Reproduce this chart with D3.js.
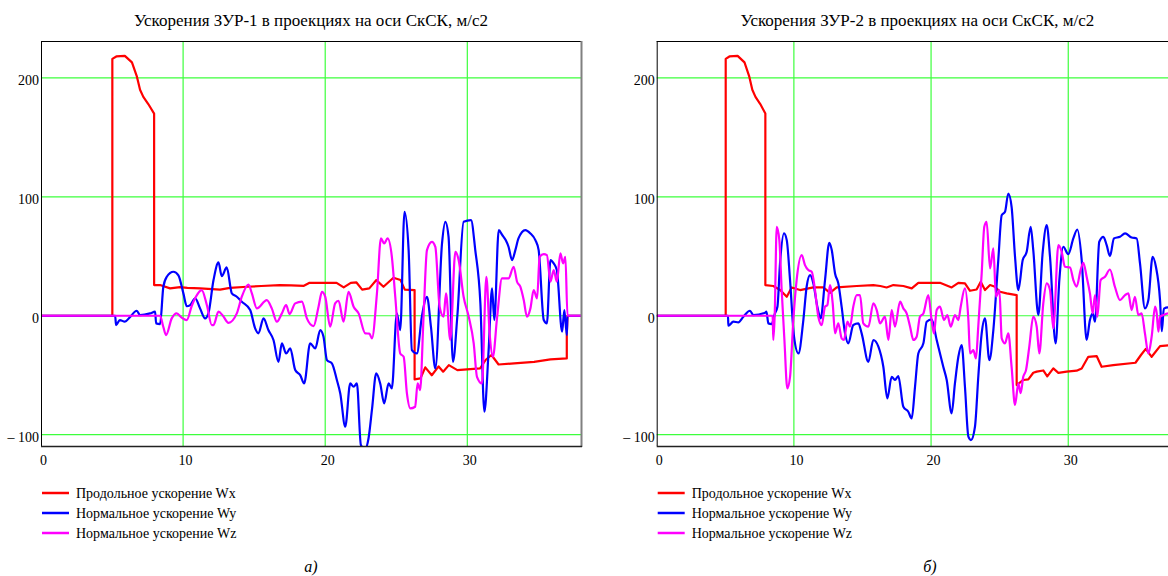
<!DOCTYPE html>
<html>
<head>
<meta charset="utf-8">
<script src="https://cdn.jsdelivr.net/npm/d3@7"></script>
<style>
  html, body { margin: 0; padding: 0; background: #fff; }
</style>
</head>
<body>
<svg id="chart" width="1168" height="576"></svg>
<script>
// ---- Tick values and labels ----
const xTicks = [0, 10, 20, 30];
const yTicks = [-100, 0, 100, 200];
const legendLabels = ["Продольное ускорение Wx", "Нормальное ускорение Wy", "Нормальное ускорение Wz"];
const seriesColors = ["#ff0000", "#0000ff", "#ff00ff"];
const panelTitles = ["Ускорения ЗУР-1 в проекциях на оси СкСК, м/с2", "Ускорения ЗУР-2 в проекциях на оси СкСК, м/с2"];
const panelCaptions = ["а)", "б)"];

// ---- ЗУР-1: [time, s ; acceleration, m/s^2] ----
const wx1 = [[0,0],[5.02,0],[5.02,216],[5.3,218],[5.9,218.5],[6.4,213],[6.75,201],[6.97,190],[7.2,184],[7.55,178],[7.96,170],[7.96,25.8],
  [8.38,25.8],[9.08,23],[9.79,24],[10.3,23.5],[11.2,23],[12.6,22],[13.3,23.5],[14.5,24.4],[15.5,25],[16.8,25.8],[17.6,25.5],[18.5,25.2],
  [18.9,27.7],[20.8,27.7],[21.3,23.8],[21.8,27.7],[22.2,28],[22.6,22],[23.1,23],[23.6,30],[24.1,24.4],[24.8,32],[25.3,30],[25.6,22],
  [26.29,21.6],[26.29,-53.5],[26.7,-52.7],[27.04,-43.4],[27.5,-50],[27.98,-42.6],[28.3,-47],[28.7,-41.5],[29.3,-45.7],[30.9,-44.3],
  [31.3,-37],[31.7,-33],[32.2,-41],[33.3,-40],[34.7,-38.7],[35.85,-36.7],[37.0,-35.9],[37.0,-16],[37.05,0],[38,0]];

const wy1 = [[0,0],[5.22,0],[5.28,-7.8],[5.55,-3.6],[5.9,-5],[6.27,-1],[6.74,4.2],[6.97,0.5],[7.68,2],[8.03,3.4],[8.1,-6.4],[8.38,-7],
  [8.61,24.4],[8.85,32.8],[9.32,37],[9.67,34],[10.02,18.8],[10.26,8],[10.5,9],[10.85,14.6],[11.2,6],[11.55,-2.2],[11.78,2],[12.14,30],
  [12.49,44.8],[12.72,33.3],[13.07,40.6],[13.43,18.8],[13.78,16],[14.13,11.8],[14.72,4.8],[15.07,-10.6],[15.3,-14.8],[15.66,-2.2],
  [16.0,-12],[16.36,-20.4],[16.71,-38.7],[16.95,-23.2],[17.25,-31.7],[17.54,-27.5],[17.89,-45.7],[18.24,-49.9],[18.52,-56.9],
  [18.94,-23.2],[19.3,-27.5],[19.65,-12],[19.88,-17.6],[20.12,-37.3],[20.47,-40],[20.82,-54],[21.06,-65.3],[21.41,-93.3],[21.76,-56.9],
  [22.0,-59.7],[22.23,-56.9],[22.51,-108.7],[22.8,-112],[23.05,-103],[23.29,-79],[23.59,-48.5],[23.87,-56.9],[24.15,-73.7],
  [24.46,-56.9],[24.69,-61],[25.04,2],[25.28,-12],[25.58,87.4],[25.87,55.2],[26.1,-28.9],[26.45,-31.7],[26.8,-0.8],[27.16,16],
  [27.44,-9.2],[27.75,-44.3],[28.22,60.8],[28.45,79],[28.68,66.4],[28.99,-38.7],[29.3,0],[29.74,79],[30.26,80.4],[30.56,55.2],
  [30.92,10.4],[31.2,-80.7],[31.5,-28.9],[31.74,23],[31.9,-3.6],[32.21,72],[32.45,68],[32.7,63.6],[32.9,58],[33.15,46.8],[33.38,55.2],
  [33.6,65],[34.08,72],[34.44,69.2],[34.79,63.6],[35.02,55.2],[35.38,-3.6],[35.6,-6.4],[35.85,46.8],[36.08,44],[36.3,38.4],
  [36.67,-13.4],[36.83,4.8],[37.0,-16.2],[37.05,0],[38,0]];

const wz1 = [[0,0],[8.38,0],[8.6,-9],[8.8,-16.2],[9.2,-2.2],[9.55,2],[9.9,-1.5],[10.26,-3.6],[10.6,8],[10.9,16],[11.31,21.6],[11.67,9],
  [12.02,-7.8],[12.14,-7.8],[12.49,3.4],[12.8,0],[13.19,-5.9],[13.78,2],[14.13,16],[14.6,26.3],[14.84,18.8],[15.19,6.2],[15.89,13.2],
  [16.24,6.2],[16.6,-5],[16.95,2],[17.25,9],[17.49,1.4],[17.89,10.4],[18.36,11.8],[18.71,-2.2],[19.18,-8.7],[19.53,7.6],[19.77,20],
  [20.0,16],[20.35,-9.2],[20.7,10.4],[20.94,12.6],[21.29,-5],[21.64,20],[22.0,7.6],[22.35,2],[22.82,-14.8],[23.1,-15],[23.29,-19],
  [23.64,18.8],[23.92,65],[24.15,60.8],[24.39,65],[24.69,49.6],[24.93,16],[25.28,-31.7],[25.52,-34.5],[25.75,-65.3],[25.99,-77.9],
  [26.33,-76.5],[26.5,-56.9],[26.68,-62.5],[26.92,-0.8],[27.16,55.2],[27.51,62.2],[27.75,58],[28.05,7.6],[28.33,-0.8],[28.5,18.8],
  [28.8,-20.4],[29.16,53.8],[29.39,46.8],[29.74,16],[30.1,-0.8],[30.45,-23.2],[30.68,-51.3],[31.03,-56.9],[31.34,32.8],[31.57,-14.8],
  [31.8,-34.5],[32.1,-0.8],[32.44,31.4],[32.9,31.4],[33.26,41.2],[33.5,28.6],[33.73,24.4],[33.97,13.2],[34.2,-0.8],[34.44,6.2],
  [34.67,21.6],[34.91,14.6],[35.09,49.6],[35.38,51.8],[35.6,51],[35.85,28.6],[36.08,38.4],[36.3,28.6],[36.55,52.4],[36.74,44],
  [36.9,49.6],[37.05,0],[38,0]];

// ---- ЗУР-2 ----
const wx2 = [[0,0],[5.03,0],[5.03,216],[5.3,218],[5.9,218.5],[6.4,213],[6.75,201],[6.97,190],[7.2,184],[7.55,178],[7.92,170],[7.92,25.8],
  [8.5,25],[9.0,21.6],[9.48,16],[9.84,23.8],[10.45,21.6],[11.42,23.8],[12.15,23.8],[12.63,19.3],[13.12,23.8],[14.58,25],[15.79,25.8],
  [16.3,25],[16.76,23.8],[17.25,25.8],[17.98,25],[18.59,23],[19.07,27.7],[20.65,27.7],[21.5,23.8],[21.99,27.7],[22.47,27.2],[22.84,21],
  [23.32,22.1],[23.62,28.6],[23.93,21.6],[24.3,25.8],[24.66,24.4],[25.02,20.2],[25.51,18.8],[26.24,17.4],[26.24,-58.3],[26.72,-54],
  [27.09,-53.5],[27.45,-47.9],[27.7,-47],[28.18,-46],[28.47,-51],[28.91,-44.3],[29.28,-48],[29.88,-47],[30.61,-46.2],[30.98,-44.3],
  [31.46,-34.5],[32.07,-33.9],[32.43,-42.9],[33.28,-41.5],[34.9,-39.5],[35.3,-33],[35.65,-27.8],[36.08,-34.5],[36.69,-25.5],
  [37.3,-24.8],[37.5,-24.8],[37.5,0],[38,0]];

const wy2 = [[0,0],[5.2,0],[5.22,-8.4],[5.59,-5],[5.95,-5.5],[6.32,-0.8],[6.8,4.2],[7.05,0.6],[7.9,2.5],[8.0,3.4],[8.14,-6.4],[8.38,-7],
  [8.62,2],[8.8,7.6],[8.99,44],[9.28,69.2],[9.48,63.6],[9.72,30],[10.01,-17.6],[10.33,-31.7],[10.69,-3.6],[10.93,24.4],[11.18,34.2],
  [11.42,27.2],[11.71,7.6],[11.95,-2.2],[12.27,30],[12.58,61.3],[12.76,55.2],[13.0,35.6],[13.24,27.2],[13.48,7.6],[13.73,-14.8],
  [13.97,-23.2],[14.33,-7.8],[14.7,-6.4],[14.94,-14.8],[15.43,-38.7],[15.79,-20.4],[16.16,-26],[16.52,-42.9],[16.81,-69.5],
  [17.13,-51.3],[17.37,-54],[17.61,-50.7],[17.98,-76.5],[18.34,-80.7],[18.59,-86.3],[18.83,-59.7],[19.07,-31.7],[19.44,-23.2],
  [19.68,-5],[20.04,-3],[20.41,-20.4],[20.89,-42.9],[21.14,-54],[21.5,-82],[21.74,-56.9],[21.99,-34.5],[22.23,-24.6],[22.47,-59.7],
  [22.72,-101.7],[22.91,-104.5],[23.2,-93.3],[23.45,-50],[23.69,-14.8],[23.93,-2.2],[24.25,-37.3],[24.54,-12],[24.9,46.8],
  [25.15,84.6],[25.39,87.4],[25.63,102.8],[25.87,91.6],[26.12,49.6],[26.36,21.6],[26.68,46.8],[26.97,53.8],[27.26,74.8],[27.45,55.2],
  [27.82,0.6],[28.13,52.4],[28.43,76.2],[28.67,49.6],[29.08,-23.2],[29.35,30],[29.64,58],[30.0,51.8],[30.37,65],[30.66,72.5],
  [30.98,46.8],[31.34,-20.4],[31.58,-3.6],[31.78,2],[31.95,-5],[32.26,62.2],[32.56,66.4],[32.8,59.4],[33.04,50.1],[33.33,65],
  [33.77,66.4],[34.14,69.2],[34.62,65.8],[34.99,65],[35.23,44],[35.59,6.2],[35.84,13.2],[36.15,49.6],[36.39,41.2],[36.69,13.2],
  [36.82,-13],[36.97,6],[37.3,7],[37.5,7],[37.55,0],[38,0]];

const wz2 = [[0,0],[8.45,0],[8.5,-20.4],[8.6,0],[8.75,74.8],[8.94,63.6],[9.11,21.6],[9.31,-20.4],[9.52,-61],[9.72,-51.3],[9.96,-3.6],
  [10.2,30],[10.57,51],[10.81,42.6],[11.05,38.4],[11.3,37],[11.54,21.6],[11.78,-0.8],[12.03,-7.8],[12.27,7.6],[12.44,9],[12.63,25.8],
  [12.83,10.4],[13.0,-14.8],[13.24,-6.4],[13.48,-19],[13.65,-20.4],[13.9,-5],[14.09,-9.2],[14.33,7.6],[14.58,17.4],[14.82,17.4],
  [15.06,-6.4],[15.43,-9.2],[15.79,10.4],[16.04,4.8],[16.28,-6.4],[16.64,-0.8],[16.89,-20.4],[17.13,4.8],[17.37,-9.2],[17.74,11.8],
  [17.98,6.2],[18.22,2],[18.47,-9.2],[18.71,-20.4],[18.95,-17.6],[19.19,-0.8],[19.44,2],[19.8,17.4],[20.04,-3.6],[20.21,-14.8],
  [20.41,4.8],[20.65,7.6],[20.94,-3.6],[21.19,0.6],[21.43,-9.2],[21.74,0.6],[21.99,-3.6],[22.16,7.6],[22.47,23],[22.72,-3.6],
  [22.84,-31.7],[23.08,-28.9],[23.27,-35.9],[23.44,-9.2],[23.69,35.6],[23.88,74.8],[24.05,79],[24.3,39.8],[24.54,56.6],[24.73,16],
  [24.98,21.6],[25.15,-19],[25.39,-23.2],[25.63,-14.8],[25.87,-43],[26.12,-75],[26.36,-56.9],[26.53,-65],[26.72,-51.3],[26.92,-45.7],
  [27.16,-26],[27.45,-0.8],[27.7,-9.2],[27.89,-31.7],[28.18,10.4],[28.43,27.2],[28.67,21.6],[28.91,-10.6],[29.28,59.4],[29.52,53.8],
  [29.76,41.2],[30.13,40.6],[30.37,30],[30.61,24.4],[30.9,38.4],[31.1,44.5],[31.34,32.8],[31.58,18.8],[31.78,2],[31.95,17.4],
  [32.12,-0.8],[32.36,30],[32.68,32.8],[33.04,38.9],[33.4,24.4],[33.77,13.2],[34.14,17.4],[34.38,18.8],[34.62,4.8],[34.86,16],
  [35.11,0.6],[35.35,2],[35.59,-14.8],[35.84,-31.7],[36.08,-17.6],[36.33,7.6],[36.45,2],[36.57,-13.4],[36.69,-1],[36.93,0.6],
  [37.3,2],[37.5,2],[37.55,0],[38,0]];

// ---- Layout ----
const serif = "'Liberation Serif', 'Times New Roman', 'DejaVu Serif', serif";
const svg = d3.select("#chart");
const plotTop = 41, plotBottom = 446;
const panels = [
  { left: 41, right: 581, series: [wx1, wy1, wz1], title: panelTitles[0], caption: panelCaptions[0], captionX: 311 },
  { left: 656.7, right: 1178, series: [wx2, wy2, wz2], title: panelTitles[1], caption: panelCaptions[1], captionX: 930 }
];
const gridColor = "#3cff3c";

panels.forEach((p, i) => {
  const g = svg.append("g");
  const x = d3.scaleLinear().domain([0, 38]).range([p.left, p.right]);
  const y = d3.scaleLinear().domain([-109.5, 231]).range([plotBottom, plotTop]);

  // title
  g.append("text")
    .attr("x", (p.left + p.right) / 2).attr("y", 26)
    .attr("text-anchor", "middle")
    .attr("font-family", serif).attr("font-size", 17)
    .text(p.title);

  // grid
  g.append("g").selectAll("line").data(xTicks.filter(d => d > 0)).join("line")
    .attr("x1", d => x(d)).attr("x2", d => x(d))
    .attr("y1", plotTop).attr("y2", plotBottom)
    .attr("stroke", gridColor).attr("stroke-width", 1.2);
  g.append("g").selectAll("line").data(yTicks).join("line")
    .attr("x1", p.left).attr("x2", p.right)
    .attr("y1", d => y(d)).attr("y2", d => y(d))
    .attr("stroke", gridColor).attr("stroke-width", 1.2);

  // axis labels
  const yAxis = g.append("g").attr("transform", `translate(${p.left},0)`)
    .call(d3.axisLeft(y).tickValues(yTicks).tickSize(0).tickPadding(2)
      .tickFormat(d => d < 0 ? "\u2013 " + Math.abs(d) : String(d)));
  yAxis.attr("font-family", serif).attr("font-size", 14);
  yAxis.select(".domain").remove();
  yAxis.selectAll("text").attr("dy", "0.5em").attr("fill", "#000");

  const xAxis = g.append("g").attr("transform", `translate(2,${plotBottom})`)
    .call(d3.axisBottom(x).tickValues(xTicks).tickSize(0).tickPadding(9));
  xAxis.attr("font-family", serif).attr("font-size", 14);
  xAxis.select(".domain").remove();
  xAxis.selectAll("text").attr("fill", "#000");

  // clip for data
  const clipId = "clip" + i;
  svg.append("clipPath").attr("id", clipId).append("rect")
    .attr("x", p.left).attr("y", plotTop)
    .attr("width", p.right - p.left).attr("height", plotBottom - plotTop);

  const lineLinear = d3.line().x(d => x(d[0])).y(d => y(d[1])).curve(d3.curveLinear);
  const lineSmooth = d3.line().x(d => x(d[0])).y(d => y(d[1])).curve(d3.curveMonotoneX);

  const dataG = g.append("g").attr("clip-path", `url(#${clipId})`);
  p.series.forEach((s, k) => {
    dataG.append("path")
      .attr("d", k === 0 ? lineLinear(s) : lineSmooth(s))
      .attr("fill", "none")
      .attr("stroke", seriesColors[k])
      .attr("stroke-width", 2.2)
      .attr("stroke-linejoin", "round");
  });

  // frame
  g.append("line").attr("x1", p.left).attr("x2", p.right).attr("y1", plotTop + 0.5).attr("y2", plotTop + 0.5)
    .attr("stroke", "#000").attr("stroke-width", 1);
  g.append("line").attr("x1", p.left + 0.5).attr("x2", p.left + 0.5).attr("y1", plotTop).attr("y2", plotBottom)
    .attr("stroke", "#000").attr("stroke-width", 1);
  g.append("line").attr("x1", p.right + 0.5).attr("x2", p.right + 0.5).attr("y1", plotTop).attr("y2", plotBottom + 1)
    .attr("stroke", "#808080").attr("stroke-width", 2);
  g.append("line").attr("x1", p.left).attr("x2", p.right + 1).attr("y1", plotBottom + 0.5).attr("y2", plotBottom + 0.5)
    .attr("stroke", "#222").attr("stroke-width", 1.6);

  // legend
  const lg = g.append("g").attr("font-family", serif).attr("font-size", 14);
  legendLabels.forEach((lab, k) => {
    const ly = 493 + k * 20;
    lg.append("line").attr("x1", p.left + 1).attr("x2", p.left + 28)
      .attr("y1", ly).attr("y2", ly)
      .attr("stroke", seriesColors[k]).attr("stroke-width", 2.5);
    lg.append("text").attr("x", p.left + 35).attr("y", ly + 5).text(lab);
  });

  // caption
  g.append("text").attr("x", p.captionX).attr("y", 572)
    .attr("text-anchor", "middle")
    .attr("font-family", serif).attr("font-size", 16).attr("font-style", "italic")
    .text(p.caption);
});
</script>
</body>
</html>
